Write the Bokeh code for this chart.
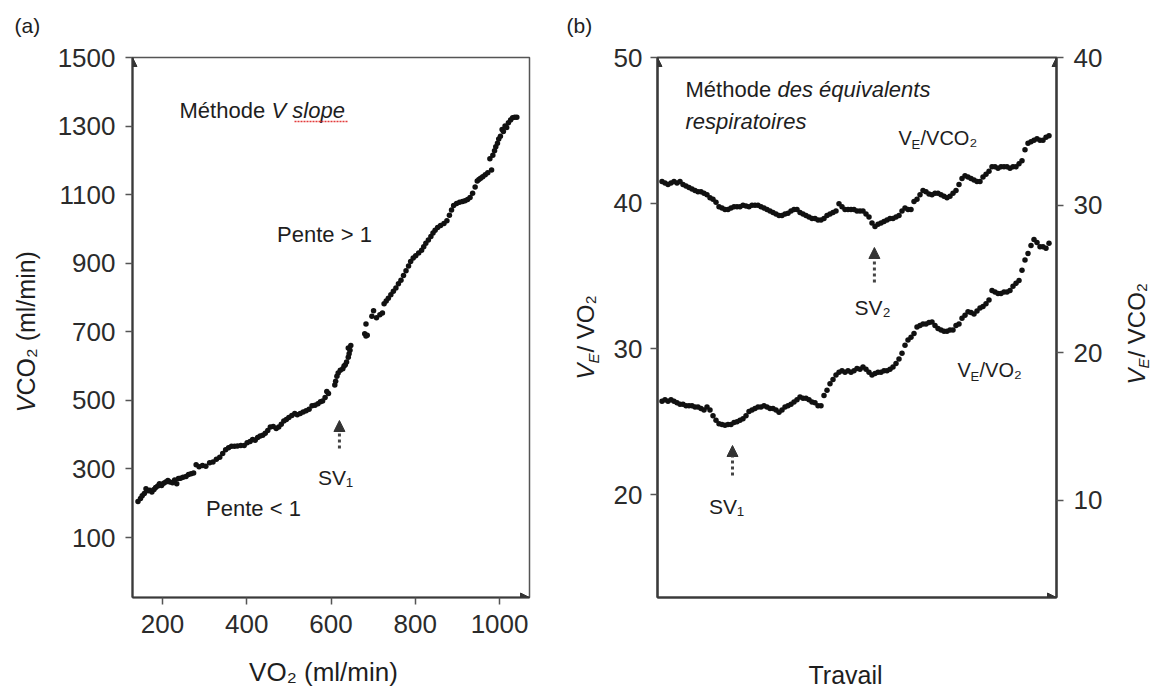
from math import pi
from bokeh.plotting import figure
from bokeh.models import Range1d, LinearAxis, FixedTicker, Label, Arrow, NormalHead
from bokeh.layouts import row, column
from bokeh.embed import file_html
from bokeh.resources import INLINE

FONT = "Liberation Sans"
INK = "#1e1e1e"
K = 0.37  # empirical shift of Bokeh's alphabetic baseline, in em

# ---------------- data: panel (a) V-slope ----------------
vo2 = [142, 148, 152, 157, 161, 166, 170, 175, 180, 184, 189, 193, 198, 203, 208, 213, 218, 224, 229, 234,
       238, 243, 249, 256, 262, 268, 274, 280, 287, 295, 303, 312, 320, 328, 336, 343, 350, 357, 364, 371,
       378, 386, 394, 401, 408, 414, 420, 426, 432, 438, 444, 450, 456, 463, 470, 476, 482, 488, 494, 500,
       507, 514, 520, 527, 534, 541, 548, 555, 562, 569, 575, 580, 586, 590, 594, 609, 611, 614, 617, 622,
       628, 631, 634, 637, 641, 643, 645, 641, 647, 680, 683, 686, 683, 697, 701, 708, 716, 722, 726, 731,
       736, 742, 748, 754, 760, 766, 772, 778, 784, 789, 795, 801, 808, 815, 820, 825, 831, 837, 842, 847,
       853, 860, 868, 875, 881, 886, 891, 898, 905, 912, 918, 924, 930, 936, 942, 947, 951, 955, 960, 966,
       972, 977, 981, 984, 988, 991, 995, 998, 1002, 1006, 1009, 1013, 1017, 1021, 1026, 1031, 1036, 1041]
vco2 = [205, 214, 222, 228, 242, 236, 238, 233, 240, 246, 250, 257, 252, 258, 262, 266, 262, 260, 268, 257,
        272, 273, 276, 278, 284, 286, 288, 312, 306, 310, 308, 318, 320, 328, 334, 345, 356, 362, 366, 366,
        367, 368, 368, 376, 380, 386, 384, 392, 396, 398, 404, 412, 422, 424, 418, 422, 430, 440, 444, 450,
        456, 462, 458, 462, 466, 470, 474, 484, 486, 490, 496, 498, 508, 526, 520, 545, 556, 570, 580, 588,
        592, 600, 604, 612, 626, 636, 646, 653, 660, 694, 688, 690, 723, 745, 761, 741, 750, 755, 782, 790,
        798, 808, 818, 828, 840, 850, 864, 878, 892, 905, 915, 922, 930, 938, 948, 958, 968, 978, 988, 996,
        1004, 1010, 1016, 1024, 1040, 1055, 1068, 1074, 1078, 1080, 1082, 1086, 1092, 1104, 1122, 1140, 1144, 1148, 1152, 1158,
        1164, 1205, 1172, 1215, 1228, 1240, 1250, 1262, 1270, 1290, 1284, 1300, 1296, 1310, 1318, 1324, 1326, 1326]
xa_ticks = [200, 400, 600, 800, 1000]
ya_ticks = [100, 300, 500, 700, 900, 1100, 1300, 1500]
sv1_vo2 = 620

# ---------------- data: panel (b) equivalents ----------------
ve_vco2 = [31.6, 31.5, 31.4, 31.5, 31.6, 31.5, 31.6, 31.4, 31.3, 31.2,
           31.1, 31.0, 30.9, 30.9, 30.8, 30.7, 30.5, 30.4, 30.2, 29.9,
           29.8, 29.7, 29.7, 29.8, 29.9, 29.9, 29.9, 30.0, 29.95, 29.9,
           30.0, 30.0, 30.0, 29.9, 29.8, 29.7, 29.6, 29.5, 29.4, 29.3,
           29.3, 29.4, 29.45, 29.6, 29.7, 29.7, 29.5, 29.4, 29.3, 29.2,
           29.1, 29.1, 29.0, 29.0, 29.1, 29.3, 29.4, 29.5, 29.6, 30.1,
           29.9, 29.7, 29.7, 29.7, 29.7, 29.6, 29.6, 29.6, 29.4, 29.2,
           28.8, 28.55, 28.7, 28.8, 28.9, 29.0, 29.1, 29.1, 29.2, 29.3,
           29.6, 29.8, 29.7, 29.7, 30.25, 30.4, 30.7, 31.0, 30.9, 30.75,
           30.7, 30.8, 30.8, 30.7, 30.6, 30.5, 30.6, 30.8, 31.0, 31.4,
           31.8, 32.0, 31.9, 31.8, 31.7, 31.6, 31.6, 31.9, 32.1, 32.3,
           32.6, 32.6, 32.5, 32.6, 32.6, 32.6, 32.5, 32.6, 32.6, 32.8,
           33.0, 33.75, 34.2, 34.3, 34.4, 34.5, 34.4, 34.4, 34.6, 34.7]
ve_vo2 = [26.4, 26.5, 26.4, 26.5, 26.4, 26.3, 26.2, 26.2, 26.1, 26.1,
          26.1, 26.0, 26.0, 25.9, 25.8, 26.0, 25.8, 25.4, 25.1, 24.85,
          24.8, 24.75, 24.8, 24.8, 24.95, 25.0, 25.1, 25.2, 25.4, 25.7,
          25.8, 25.9, 26.0, 26.0, 26.1, 26.0, 25.9, 25.9, 25.8, 25.65,
          25.8, 26.0, 26.1, 26.2, 26.35, 26.5, 26.7, 26.6, 26.6, 26.5,
          26.35, 26.3, 26.1, 26.1, 26.8, 27.15, 27.6, 27.9, 28.2, 28.4,
          28.5, 28.4, 28.5, 28.4, 28.5, 28.65, 28.6, 28.75, 28.6, 28.4,
          28.2, 28.3, 28.4, 28.4, 28.5, 28.5, 28.6, 28.75, 29.0, 29.3,
          29.7, 30.25, 30.6, 30.8, 31.05, 31.5, 31.6, 31.7, 31.7, 31.8,
          31.85, 31.6, 31.4, 31.3, 31.2, 31.2, 31.3, 31.3, 31.6, 31.7,
          32.1, 32.3, 32.55, 32.5, 32.4, 32.6, 32.8, 32.9, 33.1, 33.35,
          34.0, 33.9, 33.8, 33.8, 33.9, 33.9, 34.0, 34.3, 34.5, 34.7,
          35.4, 36.1, 36.55, 37.1, 37.5, 37.3, 37.0, 37.0, 36.9, 37.25]
travail = list(range(len(ve_vo2)))
yb_left_ticks = [20, 30, 40, 50]
yb_right_ticks = [10, 20, 30, 40]
sv1_idx = 23.5
sv2_idx = 70.8

# ---------------- geometry (page pixels) ----------------
W, H = 1153, 689
H_TOP = 650                       # height of the row holding the two panels
H_BOT = H - H_TOP                 # bottom strip for the x titles
SA_W, FA_W, SB_W, FB_W, SC_W = 45, 515, 45, 510, 38
FA_X0 = SA_W                      # 45
SB_X0 = FA_X0 + FA_W              # 560
FB_X0 = SB_X0 + SB_W              # 605
SC_X0 = FB_X0 + FB_W              # 1115
LA, RA, TA, BA = 132, 529, 57, 597
XA = (129, 1071)
YA = (-75, 1500)
LB, RB, TB, BB = 657, 1056, 57, 597
XB = (-1.5, 131.5)
YBL = (12.93, 50)
YBR = (3.43, 40)


def axA_x(px):
    return XA[0] + (px - LA) * (XA[1] - XA[0]) / (RA - LA)


def axA_y(py):
    return YA[1] - (py - TA) * (YA[1] - YA[0]) / (BA - TA)


def axB_x(px):
    return XB[0] + (px - LB) * (XB[1] - XB[0]) / (RB - LB)


def axB_y(py):
    return YBL[1] - (py - TB) * (YBL[1] - YBL[0]) / (BB - TB)


def style_axis(ax, ticks):
    ax.ticker = FixedTicker(ticks=ticks)
    ax.axis_line_color = "#3a3a3a"
    ax.axis_line_width = 2.2
    ax.major_tick_line_color = "#555555"
    ax.major_tick_line_width = 1.5
    ax.major_tick_out = 7
    ax.major_tick_in = 0
    ax.minor_tick_line_color = None
    ax.major_label_text_font = FONT
    ax.major_label_text_font_size = "26px"
    ax.major_label_text_color = "#2b2b2b"


def _label(p, x, y, text, size, style, align, angle, color):
    p.add_layout(Label(x=x, y=y, text=text, text_font=FONT, text_font_size=f"{size}px",
                       text_font_style=style, text_align=align, text_baseline="alphabetic",
                       angle=angle, text_color=color))


def label_px(p, conv_x, conv_y, px, py, text, size, style="normal", align="left", rotated=False, color=INK):
    """Place a text whose baseline starts at page pixel (px, py)."""
    if rotated:
        _label(p, conv_x(px - K * size), conv_y(py), text, size, style, align, pi / 2, color)
    else:
        _label(p, conv_x(px), conv_y(py - K * size), text, size, style, align, 0.0, color)


def head(p, x0, y0, x1, y1, size=9, **kw):
    p.add_layout(Arrow(x_start=x0, y_start=y0, x_end=x1, y_end=y1, line_alpha=0,
                       end=NormalHead(size=size, fill_color="#333333", line_color="#333333", line_width=1), **kw))


def sv_arrow(p, x, y0, y1, **kw):
    p.add_layout(Arrow(x_start=x, y_start=y0, x_end=x, y_end=y1, line_dash="3 3", line_width=3,
                       line_color="#444444",
                       end=NormalHead(size=11, fill_color="#333333", line_color="#333333", line_width=1), **kw))


def strip(width, height):
    # text-only figure whose frame covers its whole area; y runs downward in pixels
    s = figure(width=width, height=height, x_range=Range1d(0, width), y_range=Range1d(height, 0), title=None,
               x_axis_type=None, y_axis_type=None, output_backend="svg", toolbar_location=None,
               min_border_left=0, min_border_right=0, min_border_top=0, min_border_bottom=0,
               frame_align=False)
    s.outline_line_color = None
    s.grid.visible = False
    return s


def shift(dx, dy=0):
    return (lambda v: v - dx), (lambda v: v - dy)


# ---------------- left strip: (a) and y title of panel (a) ----------------
sa = strip(SA_W, H_TOP)
sax, say = shift(0)
label_px(sa, sax, say, 14, 33, "(a)", 21)
label_px(sa, sax, say, 35, 412, "V", 25, style="italic", rotated=True)
label_px(sa, sax, say, 35, 395, "CO₂ (ml/min)", 25, rotated=True)

# ---------------- panel (a) ----------------
pa = figure(width=FA_W, height=H_TOP, x_range=Range1d(*XA), y_range=Range1d(*YA), title=None,
            output_backend="svg", toolbar_location=None, frame_align=False,
            min_border_left=LA - FA_X0, min_border_right=SB_X0 - RA, min_border_top=TA,
            min_border_bottom=H_TOP - BA)
pa.grid.visible = False
pa.outline_line_color = "#555555"
pa.outline_line_width = 1.5
style_axis(pa.xaxis[0], xa_ticks)
style_axis(pa.yaxis[0], ya_ticks)
pa.xaxis.major_label_standoff = 10
pa.yaxis.major_label_standoff = 10

pa.scatter(vo2, vco2, size=5.5, color="#111111", line_width=0)

head(pa, XA[0], YA[1] - 5, XA[0], YA[1])
head(pa, XA[1] - 2, YA[0], XA[1], YA[0])
sv_arrow(pa, sv1_vo2, axA_y(448), axA_y(420))

label_px(pa, axA_x, axA_y, 179, 118, "Méthode", 22)
label_px(pa, axA_x, axA_y, 271, 118, "V slope", 22, style="italic")
# red spell-check squiggle under "slope" seen in the source image
pa.add_layout(Arrow(x_start=axA_x(294), y_start=axA_y(121), x_end=axA_x(347), y_end=axA_y(121),
                    start=None, end=None, line_color="#e23b3b", line_width=1.6, line_dash="2 1"))
label_px(pa, axA_x, axA_y, 324, 242, "Pente > 1", 22, align="center")
label_px(pa, axA_x, axA_y, 253, 516, "Pente < 1", 22, align="center")
label_px(pa, axA_x, axA_y, 335, 485, "SV₁", 21, align="center")

# ---------------- strip before panel (b): (b) and left y title ----------------
sb = strip(SB_W, H_TOP)
sbx, sby = shift(SB_X0)
label_px(sb, sbx, sby, 566, 33, "(b)", 21)
label_px(sb, sbx, sby, 594, 379, "V", 24, style="italic", rotated=True)
label_px(sb, sbx, sby, 599, 363, "E", 15, style="italic", rotated=True)
label_px(sb, sbx, sby, 594, 352, "/ VO₂", 24, rotated=True)

# ---------------- panel (b) ----------------
pb = figure(width=FB_W, height=H_TOP, x_range=Range1d(*XB), y_range=Range1d(*YBL), title=None,
            output_backend="svg", toolbar_location=None, frame_align=False,
            min_border_left=LB - FB_X0, min_border_right=SC_X0 - RB, min_border_top=TB,
            min_border_bottom=H_TOP - BB)
pb.extra_y_ranges = {"r": Range1d(*YBR)}
pb.grid.visible = False
pb.outline_line_color = "#444444"
pb.outline_line_width = 2
style_axis(pb.xaxis[0], [])
pb.xaxis.major_tick_out = 0
pb.xaxis.major_label_text_font_size = "0px"
style_axis(pb.yaxis[0], yb_left_ticks)
pb.yaxis.major_label_standoff = 8
ax_r = LinearAxis(y_range_name="r")
style_axis(ax_r, yb_right_ticks)
ax_r.major_label_standoff = 10
pb.add_layout(ax_r, "right")

pb.scatter(travail, ve_vco2, y_range_name="r", size=5.5, color="#111111", line_width=0)
pb.scatter(travail, ve_vo2, size=5.5, color="#111111", line_width=0)

head(pb, XB[0], YBL[1] - 0.3, XB[0], YBL[1])
head(pb, XB[1], YBL[1] - 0.3, XB[1], YBL[1])
head(pb, XB[1] - 0.3, YBL[0], XB[1], YBL[0])
sv_arrow(pb, sv2_idx, axB_y(282), axB_y(247))
sv_arrow(pb, sv1_idx, axB_y(475), axB_y(445))

label_px(pb, axB_x, axB_y, 685, 97, "Méthode", 22)
label_px(pb, axB_x, axB_y, 777, 97, "des équivalents", 22, style="italic")
label_px(pb, axB_x, axB_y, 685, 129, "respiratoires", 22, style="italic")
label_px(pb, axB_x, axB_y, 898, 145, "V", 20)
label_px(pb, axB_x, axB_y, 911, 149, "E", 13)
label_px(pb, axB_x, axB_y, 920, 145, "/VCO₂", 20)
label_px(pb, axB_x, axB_y, 957, 377, "V", 20)
label_px(pb, axB_x, axB_y, 970, 381, "E", 13)
label_px(pb, axB_x, axB_y, 979, 377, "/VO₂", 20)
label_px(pb, axB_x, axB_y, 872, 315, "SV₂", 21, align="center")
label_px(pb, axB_x, axB_y, 726, 514, "SV₁", 21, align="center")

# ---------------- right strip: right y title of panel (b) ----------------
sc = strip(SC_W, H_TOP)
scx, scy = shift(SC_X0)
label_px(sc, scx, scy, 1145, 384, "V", 24, style="italic", rotated=True)
label_px(sc, scx, scy, 1149, 368, "E", 15, style="italic", rotated=True)
label_px(sc, scx, scy, 1145, 357, "/ VCO₂", 24, rotated=True)

# ---------------- bottom strip: x titles ----------------
sd = strip(W, H_BOT)
sdx, sdy = shift(0, H_TOP)
label_px(sd, sdx, sdy, 323, 681, "VO₂ (ml/min)", 26, align="center")
label_px(sd, sdx, sdy, 845, 684, "Travail", 25, align="center")

layout = column(row(sa, pa, sb, pb, sc), sd)
open("out.html", "w").write(file_html(layout, INLINE))
